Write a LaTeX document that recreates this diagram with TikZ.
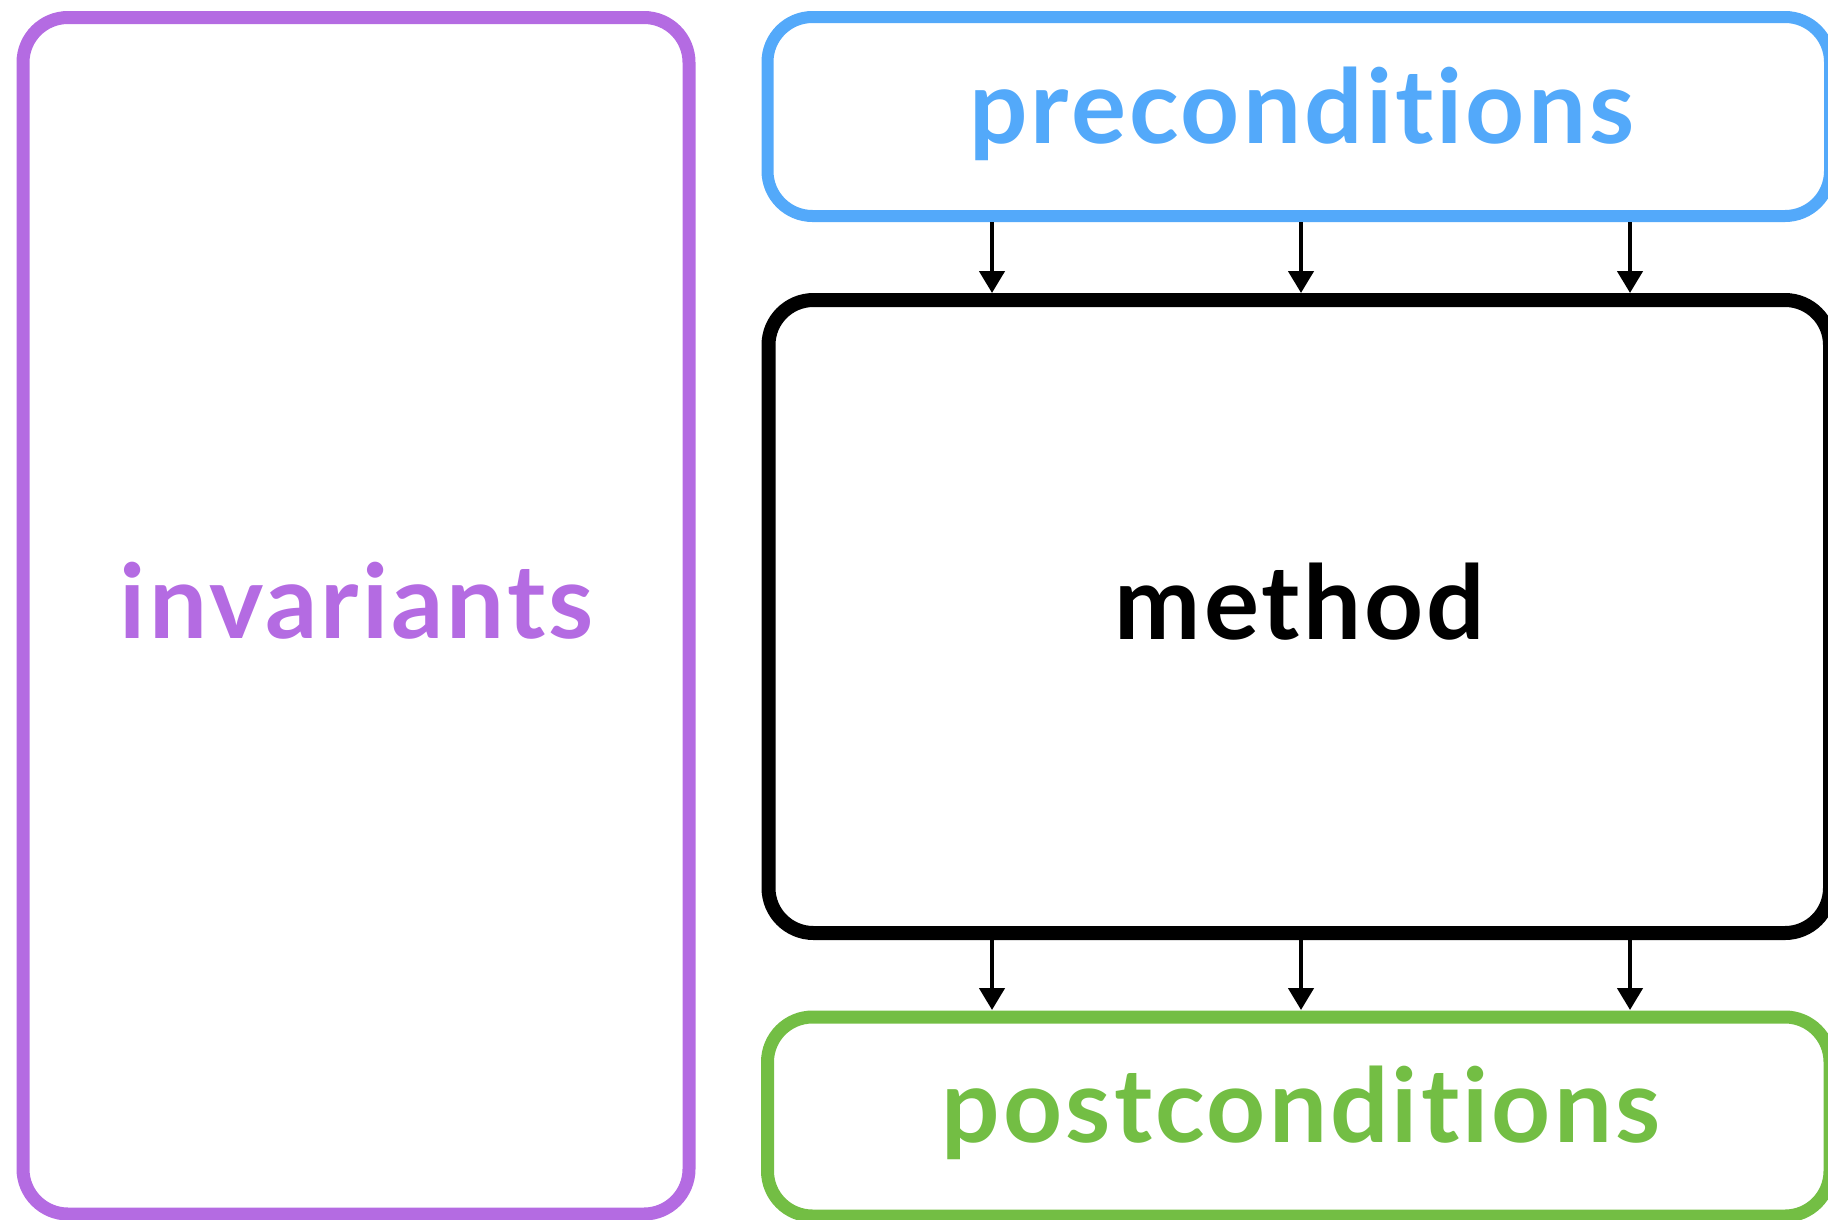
\documentclass[tikz,border=0pt]{standalone}
\usepackage{fontspec}
\setmainfont{Lato}
\newfontfamily\boxfont[Ligatures={NoCommon}, LetterSpace=3]{Lato Bold}
\usetikzlibrary{arrows.meta,calc}
\definecolor{invcol}{RGB}{180,107,226}
\definecolor{precol}{RGB}{83,169,250}
\definecolor{postcol}{RGB}{115,190,68}
\tikzset{
  box/.style={draw, rounded corners=45pt, line width=#1, inner sep=0pt, outer sep=0pt},
  lbl/.style={anchor=base, inner sep=0pt, font=\boxfont\fontsize{103}{115}\selectfont},
  flow/.style={line width=4.5pt, -{Triangle[length=22pt,width=25pt]}},
}
\begin{document}
\begin{tikzpicture}[x=1pt,y=-1pt]
  \useasboundingbox (0,0) rectangle (1828,1219);
  \clip (0,0) rectangle (1828,1219);
  % boxes (drawn by their centre lines)
  \draw[box=13pt, invcol] (23,17.5) rectangle (689,1214);
  \draw[box=12pt, precol] (767.5,17) rectangle (1830,216);
  \draw[box=14pt, black] (768.5,300) rectangle (1830,933);
  \draw[box=13pt, postcol] (767.5,1017) rectangle (1830,1216);
  % anchors for the connectors
  \coordinate (preB) at (1300,222);
  \coordinate (methT) at (1300,293);
  \coordinate (methB) at (1300,940);
  \coordinate (postT) at (1300,1010);
  % labels
  \node[lbl, text=invcol] (inv) at (357,638) {invariants};
  \node[lbl, text=precol] (pre) at (1302,143) {preconditions};
  \node[lbl, text=black] (meth) at (1300,639) {method};
  \node[lbl, text=postcol] (post) at (1301,1142) {postconditions};
  % connectors
  \foreach \xx in {992,1301,1630} {
    \draw[flow] (preB -| \xx,0) -- (methT -| \xx,0);
    \draw[flow] (methB -| \xx,0) -- (postT -| \xx,0);
  }
\end{tikzpicture}
\end{document}
